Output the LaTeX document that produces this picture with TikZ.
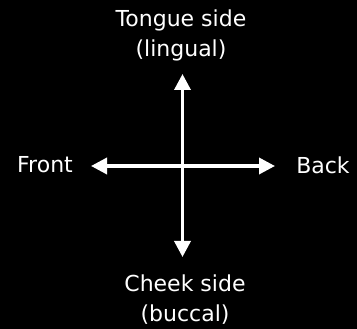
\documentclass[tikz,border=0pt]{standalone}
\usepackage{fontspec}
\setmainfont{DejaVu Sans}
\usetikzlibrary{arrows.meta}

\begin{document}
\begin{tikzpicture}[x=1pt,y=-1pt, every node/.style={text=white, font=\fontsize{22}{30}\selectfont, align=center, anchor=base, inner sep=0pt}]
      \fill[black] (0,0) rectangle (357,329);
      \useasboundingbox (0,0) rectangle (357,329);
      \coordinate (top) at (182.5,74);
      \coordinate (bottom) at (182.5,257);
      \coordinate (left) at (91,166);
      \coordinate (right) at (275,166);
      \node (lingual) at (181,57) {Tongue side\\(lingual)};
      \node (buccal) at (185,322) {Cheek side\\(buccal)};
      \node (front) at (45,173) {Front};
      \node (back) at (323,174) {Back};
      \draw[{Triangle[length=16pt,width=16pt]}-{Triangle[length=16pt,width=16pt]}, line width=3.5pt, white] (top) -- (bottom);
      \draw[{Triangle[length=16pt,width=16pt]}-{Triangle[length=16pt,width=16pt]}, line width=3.5pt, white] (left) -- (right);
    \end{tikzpicture}
\end{document}
